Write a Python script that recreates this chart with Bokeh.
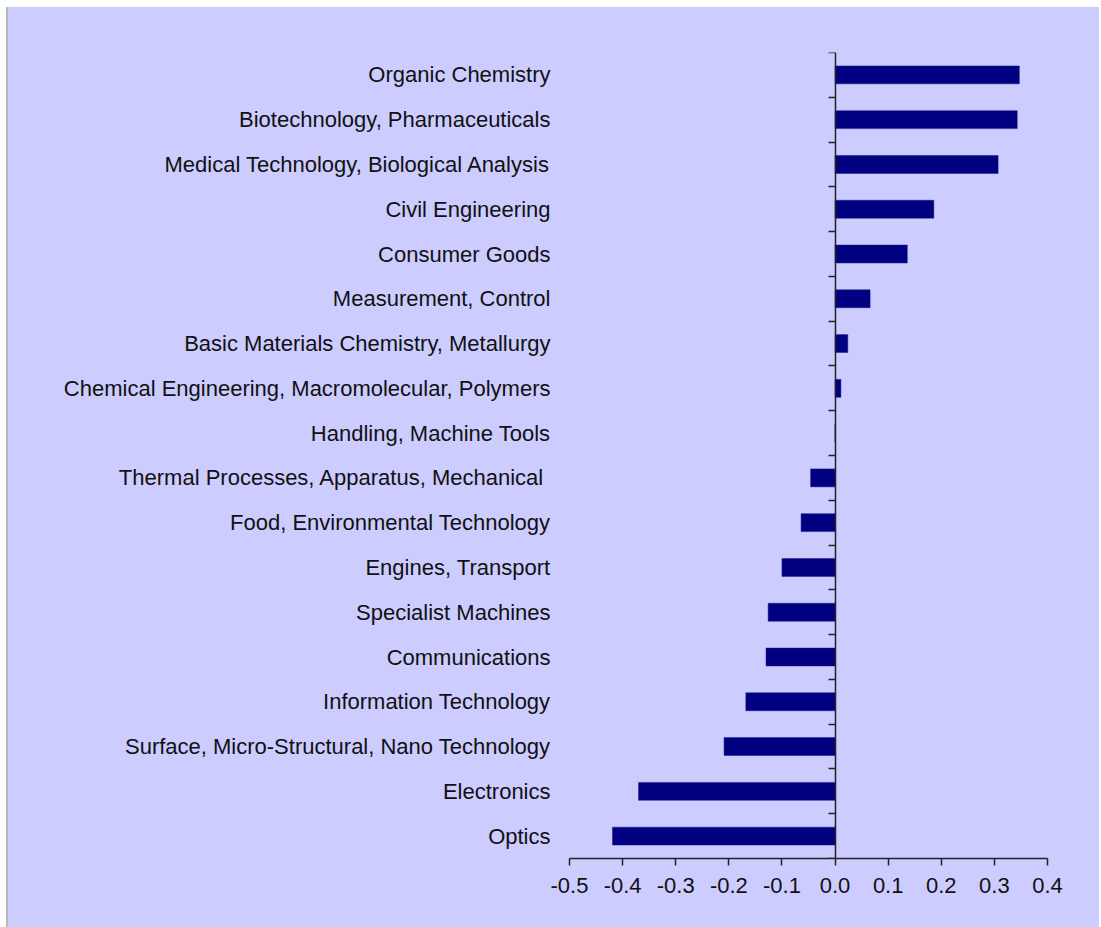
from bokeh.plotting import figure
from bokeh.models import Range1d, FixedTicker, LinearAxis, PrintfTickFormatter
from bokeh.embed import file_html
from bokeh.resources import INLINE

# Categories listed top to bottom
categories = [
    "Organic Chemistry",
    "Biotechnology, Pharmaceuticals",
    "Medical Technology, Biological Analysis",
    "Civil Engineering",
    "Consumer Goods",
    "Measurement, Control",
    "Basic Materials Chemistry, Metallurgy",
    "Chemical Engineering, Macromolecular, Polymers",
    "Handling, Machine Tools",
    "Thermal Processes, Apparatus, Mechanical ",
    "Food, Environmental Technology",
    "Engines, Transport",
    "Specialist Machines",
    "Communications",
    "Information Technology",
    "Surface, Micro-Structural, Nano Technology",
    "Electronics",
    "Optics",
]
values = [0.347, 0.343, 0.307, 0.186, 0.136, 0.066, 0.024, 0.011, 0.0,
          -0.046, -0.064, -0.100, -0.126, -0.130, -0.168, -0.209, -0.370, -0.419]
x_ticks = [-0.5, -0.4, -0.3, -0.2, -0.1, 0.0, 0.1, 0.2, 0.3, 0.4]

n = len(categories)
centers = [n - 1 - i + 0.5 for i in range(n)]
boundaries = list(range(n + 1))

BG = "#CCCCFF"
FONT = "Liberation Sans"

p = figure(width=1093, height=920, output_backend="svg", toolbar_location=None,
           x_range=Range1d(-0.5, 0.4), y_range=Range1d(0, n),
           min_border_left=561, min_border_right=54, min_border_top=45,
           min_border_bottom=69, margin=(7, 0, 0, 6))
p.styles = {"border-left": "2px solid #b8b8b8", "background-color": BG}
p.background_fill_alpha = 0
p.border_fill_alpha = 0
p.outline_line_color = None
p.grid.visible = False

p.hbar(y=centers, right=values, left=0, height=0.4,
       fill_color="#000080", line_color="#1a1a8c", line_width=0.5)

# x axis
xa = p.xaxis[0]
xa.ticker = FixedTicker(ticks=x_ticks)
xa.formatter = PrintfTickFormatter(format="%.1f")
xa.major_tick_in = 0
xa.major_tick_out = 7
xa.minor_tick_line_color = None
xa.axis_line_color = "#222222"
xa.axis_line_width = 1.5
xa.major_tick_line_color = "#222222"
xa.major_tick_line_width = 1.5
xa.major_label_text_font = FONT
xa.major_label_text_font_size = "22px"
xa.major_label_text_color = "#111111"
xa.major_label_standoff = 12

# category labels axis (left)
ya = p.yaxis[0]
ya.ticker = FixedTicker(ticks=centers)
ya.major_label_overrides = {c: lab for c, lab in zip(centers, categories)}
ya.axis_line_color = None
ya.major_tick_line_color = None
ya.minor_tick_line_color = None
ya.major_tick_in = 0
ya.major_tick_out = 0
ya.major_label_standoff = 19
ya.major_label_text_font = FONT
ya.major_label_text_font_size = "22px"
ya.major_label_text_color = "#111111"

# zero-line axis with boundary ticks
za = LinearAxis(fixed_location=0, ticker=FixedTicker(ticks=boundaries))
za.major_label_overrides = {b: "" for b in boundaries}
za.major_tick_in = 7
za.major_tick_out = 0
za.minor_tick_line_color = None
za.axis_line_color = "#222222"
za.axis_line_width = 1.5
za.major_tick_line_color = "#222222"
za.major_tick_line_width = 1.5
p.add_layout(za, "right")

open("out.html", "w").write(file_html(p, INLINE))
